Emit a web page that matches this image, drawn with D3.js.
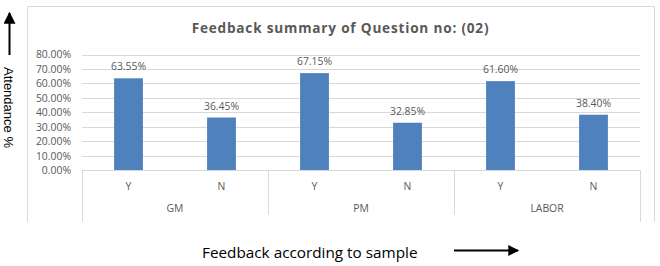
<!DOCTYPE html>
<html>
<head>
<meta charset="utf-8">
<script src="https://cdn.jsdelivr.net/npm/d3@7"></script>
<style>
  body { margin: 0; background: #fff; }
  svg { display: block; }
</style>
</head>
<body>
<svg id="chart"></svg>
<script>
// groups and sub categories
const groups = ["GM", "PM", "LABOR"];
const answers = ["Y", "N"];
// percentage values, in group order
const values = [63.55, 36.45, 67.15, 32.85, 61.60, 38.40];
const yTicks = [0, 10, 20, 30, 40, 50, 60, 70, 80];

const W = 660, H = 266;
const plot = { left: 82, right: 640, top: 54.5, bottom: 170.3 };

const svg = d3.select("#chart")
    .attr("width", W)
    .attr("height", H);

const font = "'Open Sans', sans-serif";
const small = "10.4px";

// chart frame (left, top, right)
svg.append("path")
    .attr("d", "M27.5,222 V6.5 H654.5 V222")
    .attr("fill", "none")
    .attr("stroke", "#d9d9d9")
    .attr("stroke-width", 1);

// flat list of bars
const rows = [];
groups.forEach((g, gi) => {
    answers.forEach((a, ai) => {
        rows.push({ group: g, answer: a, key: g + "-" + a, value: values[gi * answers.length + ai] });
    });
});

const x = d3.scaleBand()
    .domain(rows.map(d => d.key))
    .range([plot.left, plot.right])
    .paddingInner(0.69)
    .paddingOuter(0.345);

const xg = d3.scaleBand()
    .domain(groups)
    .range([plot.left, plot.right]);

const y = d3.scaleLinear()
    .domain([0, 80])
    .range([plot.bottom, plot.top]);

// gridlines
svg.append("g")
    .selectAll("line")
    .data(yTicks.slice(1))
    .join("line")
    .attr("x1", plot.left)
    .attr("x2", plot.right)
    .attr("y1", d => Math.round(y(d)) + 0.5)
    .attr("y2", d => Math.round(y(d)) + 0.5)
    .attr("stroke", "#d9d9d9");

// y axis labels
const yAxis = svg.append("g")
    .attr("transform", "translate(" + plot.left + ",0)")
    .call(d3.axisLeft(y).tickValues(yTicks).tickSize(0).tickPadding(11)
        .tickFormat(d => d.toFixed(2) + "%"));
yAxis.select(".domain").remove();
yAxis.selectAll("text")
    .attr("fill", "#595959")
    .style("font-family", font)
    .style("font-size", small);

// bars
svg.append("g")
    .selectAll("rect")
    .data(rows)
    .join("rect")
    .attr("x", d => x(d.key))
    .attr("width", x.bandwidth())
    .attr("y", d => y(d.value))
    .attr("height", d => y(0) - y(d.value))
    .attr("fill", "#4f81bd");

// data labels
svg.append("g")
    .selectAll("text")
    .data(rows)
    .join("text")
    .attr("x", d => x(d.key) + x.bandwidth() / 2)
    .attr("y", d => y(d.value) - 8)
    .attr("text-anchor", "middle")
    .attr("fill", "#595959")
    .style("font-family", font)
    .style("font-size", small)
    .text(d => d.value.toFixed(2) + "%");

// category axis: base line and separators
const axisColor = "#d9d9d9";
svg.append("line")
    .attr("x1", plot.left).attr("x2", plot.right)
    .attr("y1", Math.round(plot.bottom) + 0.5).attr("y2", Math.round(plot.bottom) + 0.5)
    .attr("stroke", axisColor);

const seps = groups.map(g => xg(g)).concat([plot.right]);
svg.append("g")
    .selectAll("line")
    .data(seps)
    .join("line")
    .attr("x1", d => Math.round(d) + 0.5)
    .attr("x2", d => Math.round(d) + 0.5)
    .attr("y1", Math.round(plot.bottom))
    .attr("y2", (d, i) => (i === 0 || i === seps.length - 1) ? 222 : 215)
    .attr("stroke", axisColor);

// answer labels
svg.append("g")
    .selectAll("text")
    .data(rows)
    .join("text")
    .attr("x", d => x(d.key) + x.bandwidth() / 2)
    .attr("y", 190)
    .attr("text-anchor", "middle")
    .attr("fill", "#595959")
    .style("font-family", font)
    .style("font-size", small)
    .text(d => d.answer);

// group labels
svg.append("g")
    .selectAll("text")
    .data(groups)
    .join("text")
    .attr("x", d => xg(d) + xg.bandwidth() / 2)
    .attr("y", 212)
    .attr("text-anchor", "middle")
    .attr("fill", "#595959")
    .style("font-family", font)
    .style("font-size", small)
    .text(d => d);

// title
svg.append("text")
    .attr("x", 340.5)
    .attr("y", 33.3)
    .attr("text-anchor", "middle")
    .attr("fill", "#595959")
    .style("font-family", font)
    .style("font-size", "13.6px")
    .style("font-weight", "bold")
    .style("letter-spacing", "0.8px")
    .text("Feedback summary of Question no: (02)");

// arrows outside the chart
const defs = svg.append("defs");
defs.append("marker")
    .attr("id", "head")
    .attr("viewBox", "0 0 10 10")
    .attr("refX", 9).attr("refY", 5)
    .attr("markerWidth", 8).attr("markerHeight", 6)
    .attr("markerUnits", "strokeWidth")
    .attr("orient", "auto")
    .append("path")
    .attr("d", "M0,0 L10,5 L0,10 Z")
    .attr("fill", "#000");

svg.append("line")
    .attr("x1", 9.5).attr("x2", 9.5)
    .attr("y1", 55).attr("y2", 13)
    .attr("stroke", "#000").attr("stroke-width", 2)
    .attr("marker-end", "url(#head)");

svg.append("line")
    .attr("x1", 454).attr("x2", 518)
    .attr("y1", 250.5).attr("y2", 250.5)
    .attr("stroke", "#000").attr("stroke-width", 1.8)
    .attr("marker-end", "url(#head)");

svg.append("text")
    .attr("transform", "translate(3.5,67) rotate(90)")
    .attr("fill", "#000")
    .style("font-family", "'Liberation Sans', Arial, sans-serif")
    .style("font-size", "13px")
    .text("Attendance %");

svg.append("text")
    .attr("x", 202)
    .attr("y", 258)
    .attr("fill", "#000")
    .style("font-family", font)
    .style("font-size", "15.3px")
    .text("Feedback according to sample");
</script>
</body>
</html>
